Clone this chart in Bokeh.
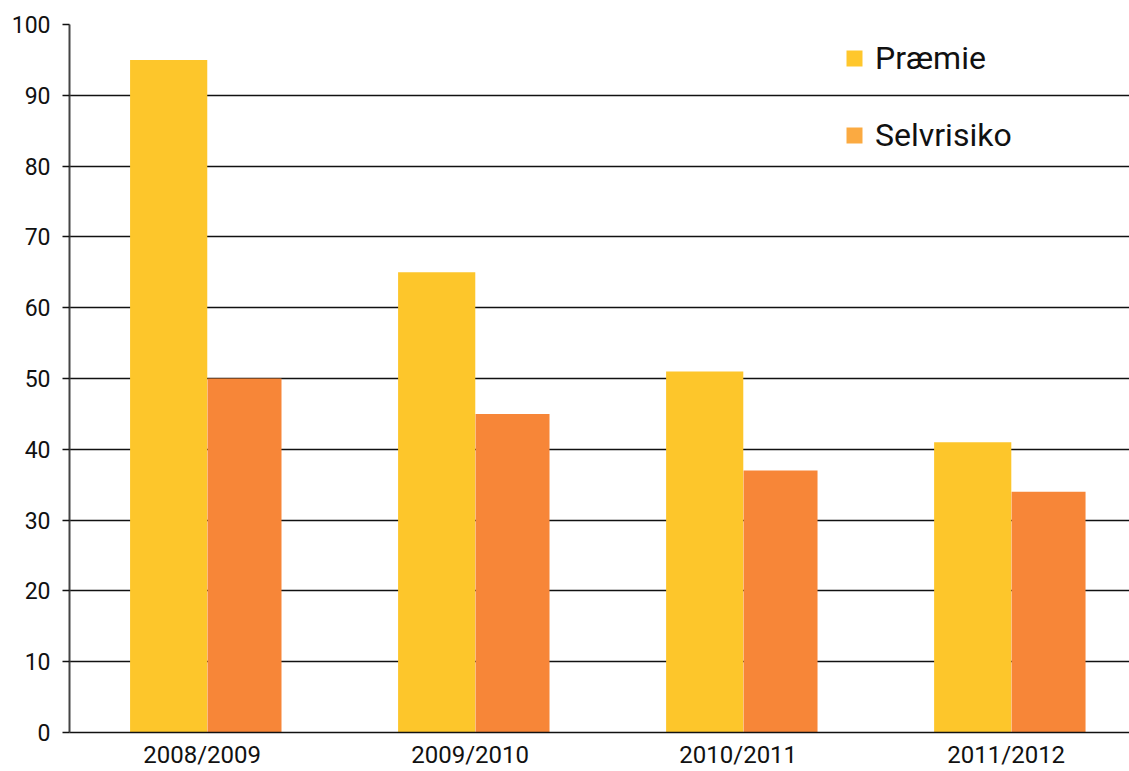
from bokeh.plotting import figure
from bokeh.models import Range1d, FixedTicker, Legend, LegendItem, ColumnDataSource
from bokeh.embed import file_html
from bokeh.resources import INLINE

seasons = ["2008/2009", "2009/2010", "2010/2011", "2011/2012"]
praemie = [95, 65, 51, 41]
selvrisiko = [50, 45, 37, 34]
y_ticks = [0, 10, 20, 30, 40, 50, 60, 70, 80, 90, 100]

FONT = "Roboto"
C_PRAEMIE = "#FDC62B"
C_SELV = "#F78638"
C_LEG_PRAEMIE = "#FFC72C"
C_LEG_SELV = "#FBAA41"

idx = list(range(len(seasons)))
src = ColumnDataSource(dict(
    x=idx,
    x_p=[i - 0.145 for i in idx],
    x_s=[i + 0.138 for i in idx],
    praemie=praemie,
    selvrisiko=selvrisiko,
))

p = figure(width=1129, height=771, output_backend="svg", toolbar_location=None,
           x_range=Range1d(-0.515, 3.44), y_range=Range1d(0, 100),
           min_border_left=69, min_border_right=0, min_border_top=24, min_border_bottom=39)
p.outline_line_color = None
p.background_fill_color = "white"
p.border_fill_color = "white"

p.vbar(x="x_p", top="praemie", width=0.288, source=src, fill_color=C_PRAEMIE, line_color=None)
p.vbar(x="x_s", top="selvrisiko", width=0.276, source=src, fill_color=C_SELV, line_color=None)

# legend proxies (zero-height bars, only used for the legend swatches)
proxy = ColumnDataSource(dict(x=idx[:1], top=[0]))
r1 = p.vbar(x="x", top="top", width=0.01, source=proxy, fill_color=C_LEG_PRAEMIE, line_color=None)
r2 = p.vbar(x="x", top="top", width=0.01, source=proxy, fill_color=C_LEG_SELV, line_color=None)

for r, lab, loc in [(r1, "Præmie", (775, 655)), (r2, "Selvrisiko", (775, 578))]:
    lg = Legend(items=[LegendItem(label=lab, renderers=[r])], location=loc,
                glyph_width=20, glyph_height=20, label_text_font=FONT,
                label_text_font_size="32px", label_text_color="#111111",
                padding=0, margin=0, spacing=0, label_standoff=11,
                border_line_color=None, background_fill_alpha=0)
    p.add_layout(lg, "center")

# y axis
p.yaxis.ticker = FixedTicker(ticks=y_ticks)
p.yaxis.axis_line_color = "#444444"
p.yaxis.axis_line_width = 2
p.yaxis.major_tick_out = 7
p.yaxis.major_tick_in = 0
p.yaxis.major_tick_line_color = "#111111"
p.yaxis.major_tick_line_width = 1.5
p.yaxis.minor_tick_line_color = None
p.yaxis.major_label_text_font = FONT
p.yaxis.major_label_text_font_size = "23px"
p.yaxis.major_label_text_color = "#111111"
p.yaxis.major_label_standoff = 12

# x axis
p.xaxis.ticker = FixedTicker(ticks=[i - 0.02 for i in idx])
p.xaxis.major_label_overrides = {i - 0.02: s for i, s in zip(idx, seasons)}
p.xaxis.axis_line_color = "#111111"
p.xaxis.axis_line_width = 1.5
p.xaxis.major_tick_line_color = None
p.xaxis.minor_tick_line_color = None
p.xaxis.major_label_text_font = FONT
p.xaxis.major_label_text_font_size = "24px"
p.xaxis.major_label_text_color = "#111111"
p.xaxis.major_label_standoff = 2

p.xgrid.grid_line_color = None
p.ygrid.grid_line_color = "#111111"
p.ygrid.grid_line_width = 1.5
p.ygrid.level = "underlay"

open("out.html", "w").write(file_html(p, INLINE))
